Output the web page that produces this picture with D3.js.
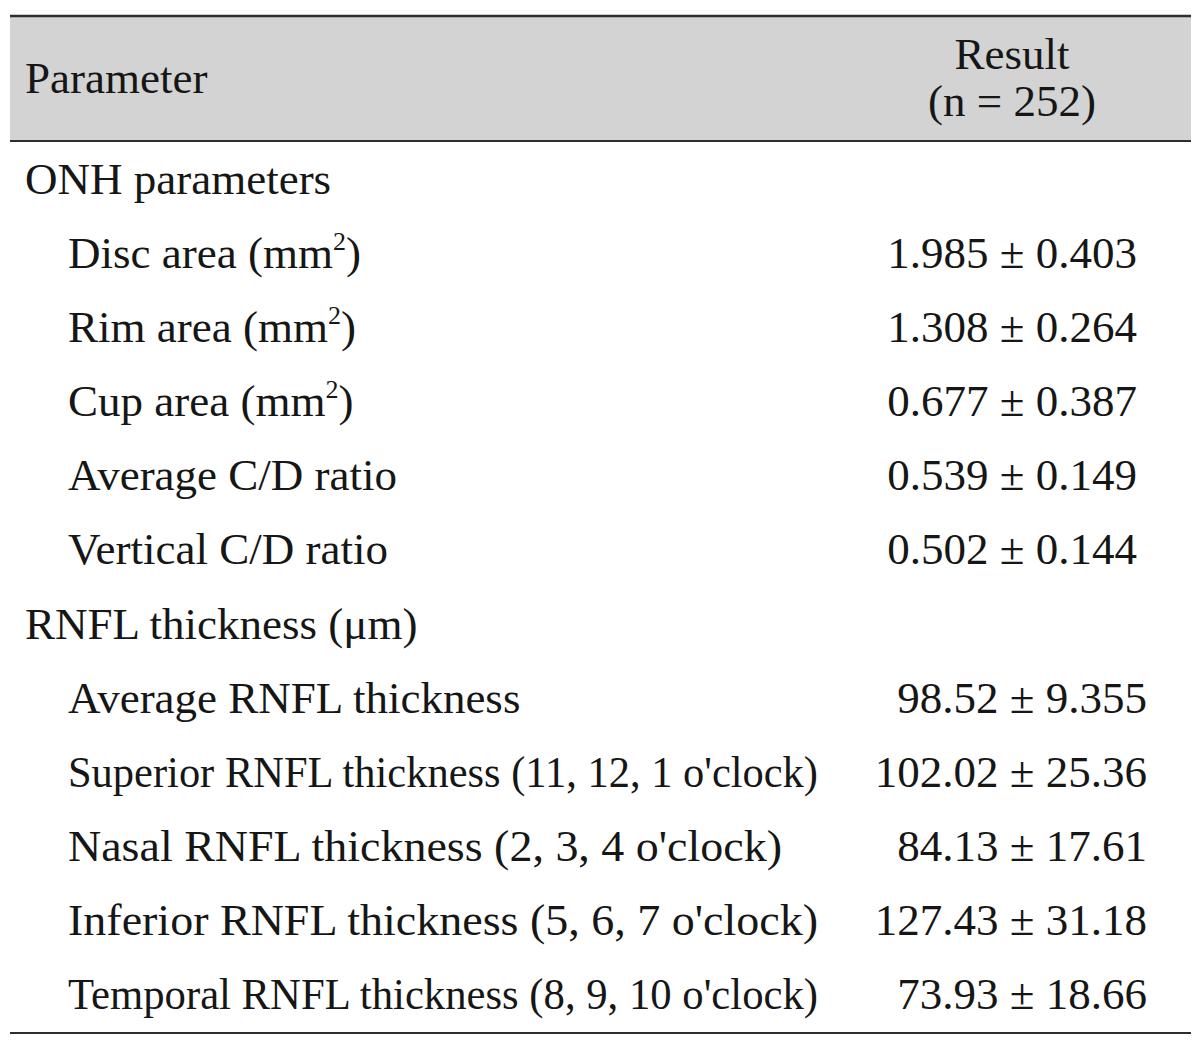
<!DOCTYPE html>
<html>
<head>
<meta charset="utf-8">
<script src="https://cdn.jsdelivr.net/npm/d3@7"></script>
<style>
  html, body { margin: 0; padding: 0; background: #ffffff; }
  svg { display: block; }
</style>
</head>
<body>
<svg id="chart" width="1200" height="1049"></svg>
<script>
// ---- data ----
const headerLeft = "Parameter";
const headerRight = ["Result", "(n = 252)"];
const sections = ["ONH parameters", "RNFL thickness (\u03BCm)"];
const onhLabels = ["Disc area (mm|2|)", "Rim area (mm|2|)", "Cup area (mm|2|)", "Average C/D ratio", "Vertical C/D ratio"];
const onhMeans = ["1.985", "1.308", "0.677", "0.539", "0.502"];
const onhSDs = ["0.403", "0.264", "0.387", "0.149", "0.144"];
const rnflLabels = ["Average RNFL thickness", "Superior RNFL thickness (11, 12, 1 o'clock)", "Nasal RNFL thickness (2, 3, 4 o'clock)", "Inferior RNFL thickness (5, 6, 7 o'clock)", "Temporal RNFL thickness (8, 9, 10 o'clock)"];
const rnflMeans = ["98.52", "102.02", "84.13", "127.43", "73.93"];
const rnflSDs = ["9.355", "25.36", "17.61", "31.18", "18.66"];

// ---- layout ----
const svg = d3.select("#chart");
const left = 10, right = 1191;
const font = "'Liberation Serif', 'Times New Roman', serif";
const fs = 45;
const textColor = "#161616";
// condensed widths of the long RNFL labels (layout only)
const rnflLabelWidths = [null, 750, 714, 750, 750];

const rows = [];
rows.push({type: "section", label: sections[0]});
onhLabels.forEach((l, i) => rows.push({type: "item", label: l, value: onhMeans[i] + " \u00B1 " + onhSDs[i], group: 0, fit: null}));
rows.push({type: "section", label: sections[1]});
rnflLabels.forEach((l, i) => rows.push({type: "item", label: l, value: rnflMeans[i] + " \u00B1 " + rnflSDs[i], group: 1, fit: rnflLabelWidths[i]}));

const y = d3.scaleLinear().domain([0, rows.length - 1]).range([194, 1009]);

// header background
svg.append("rect").attr("x", left).attr("y", 16).attr("width", right - left).attr("height", 125)
  .attr("fill", "#d3d3d3");
const rule = (yy, w) => svg.append("line").attr("x1", left).attr("x2", right).attr("y1", yy).attr("y2", yy)
  .attr("stroke", "#2e2e2e").attr("stroke-width", w);
rule(16, 2.5);
rule(141, 2);
rule(1033, 2);

// header text
svg.append("text").attr("x", 25).attr("y", 93).attr("font-family", font).attr("font-size", fs)
  .attr("fill", textColor).text(headerLeft);
headerRight.forEach((t, i) => {
  svg.append("text").attr("x", 1012).attr("y", 69 + i * 47).attr("text-anchor", "middle")
    .attr("font-family", font).attr("font-size", fs).attr("fill", textColor).text(t);
});

// body
const valueRight = [1137, 1147];
rows.forEach((r, i) => {
  const t = svg.append("text").attr("x", r.type === "section" ? 25 : 68).attr("y", y(i))
    .attr("font-family", font).attr("font-size", fs).attr("fill", textColor);
  if (r.fit) t.attr("textLength", r.fit).attr("lengthAdjust", "spacingAndGlyphs");
  const parts = r.label.split("|");
  let raised = false;
  parts.forEach((p, k) => {
    if (k % 2 === 1) {
      t.append("tspan").attr("font-size", 26).attr("dy", -18).text(p);
      raised = true;
    } else if (p.length) {
      const ts = t.append("tspan").text(p);
      if (raised) { ts.attr("dy", 18); raised = false; }
    }
  });
  if (r.type === "item") {
    svg.append("text").attr("x", valueRight[r.group]).attr("y", y(i)).attr("text-anchor", "end")
      .attr("font-family", font).attr("font-size", fs).attr("fill", textColor).text(r.value);
  }
});
</script>
</body>
</html>
